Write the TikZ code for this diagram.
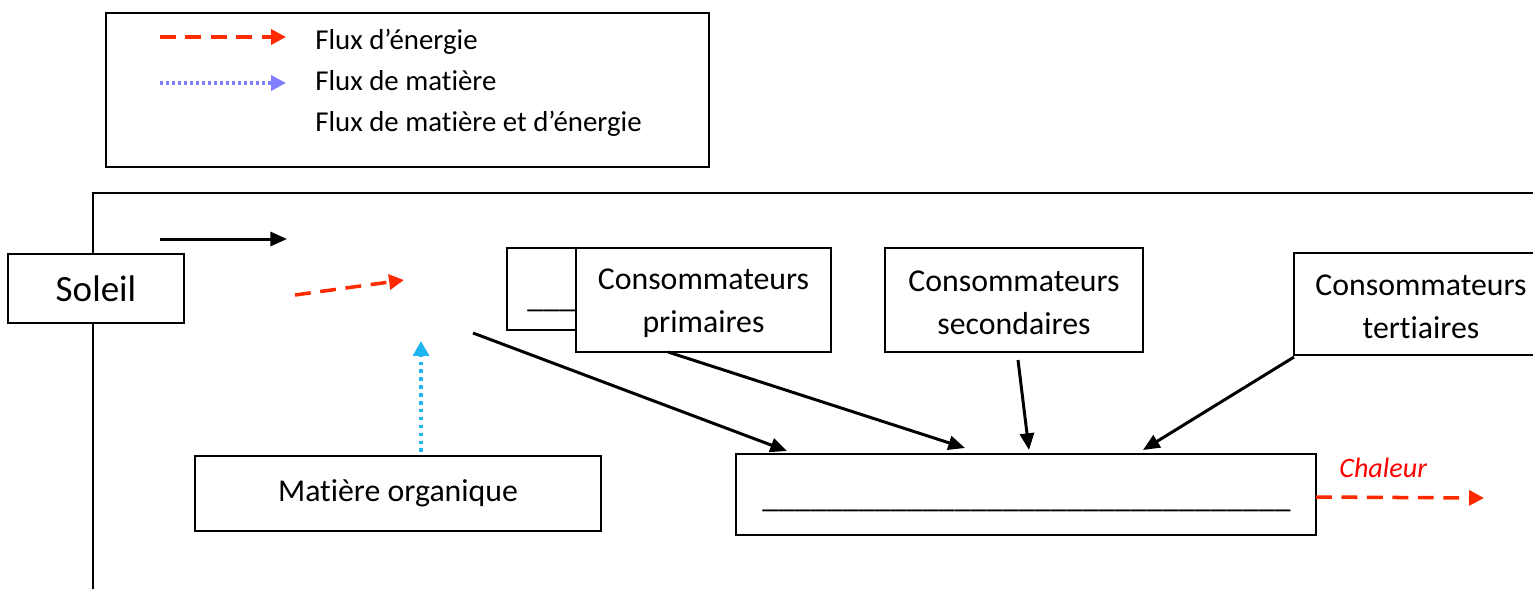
\documentclass[tikz,border=0pt]{standalone}
\usepackage{fontspec}
\setmainfont{Carlito}[Ligatures=NoCommon]
\usetikzlibrary{arrows.meta}
\definecolor{ered}{HTML}{FF2A00}
\definecolor{mblue}{HTML}{7F7FFF}
\definecolor{cyanb}{HTML}{1FB5EE}
\definecolor{chal}{HTML}{FF0000}
\begin{document}
\begin{tikzpicture}[x=0.02cm,y=-0.02cm,
  box/.style={draw, line width=1.3pt, fill=white, inner sep=0pt, align=center,
    font=\fontsize{18.1}{24.4}\selectfont},
  boxtext/.style={inner sep=0pt, align=center, font=\fontsize{18.1}{24.4}\selectfont, yshift=-0.06cm},
  legtext/.style={anchor=base west, inner sep=0pt, font=\fontsize{16.4}{20}\selectfont},
  blk/.style={line width=1.7pt, -{Triangle[length=9.5pt,width=8pt]}},
  nrj/.style={ered, line width=2pt, dash pattern=on 9pt off 5.5pt, -{Triangle[length=8.5pt,width=8.5pt]}},
  mat/.style={mblue, line width=2pt, dash pattern=on 1.8pt off 1.6pt, -{Triangle[length=8.5pt,width=8.5pt]}},
  matc/.style={cyanb, line width=2pt, dash pattern=on 2pt off 2.5pt, -{Triangle[length=8.5pt,width=9pt]}}
]
\useasboundingbox (0,0) rectangle (1533,589);
% legend
\node[box, minimum width=603*0.02cm, minimum height=154*0.02cm, anchor=north west] (leg) at (105,12) {};
\coordinate (l1s) at (160,37); \coordinate (l1e) at (286,37);
\coordinate (l2s) at (160,83); \coordinate (l2e) at (286,83);
\draw[nrj] (l1s) -- (l1e);
\draw[mat] (l2s) -- (l2e);
\node[legtext] (t1) at (315,49) {Flux d’énergie};
\node[legtext] (t2) at (315,90) {Flux de matière};
\node[legtext] (t3) at (315,131) {Flux de matière et d’énergie};
% frame
\coordinate (f1) at (93,589); \coordinate (f2) at (93,193); \coordinate (f3) at (1545,193);
\draw[line width=1.3pt] (f1) -- (f2) -- (f3);
% Soleil
\node[box, minimum width=176*0.02cm, minimum height=69*0.02cm, font=\fontsize{21.1}{26}\selectfont] (sol) at (96,288.5) {Soleil};
% arrows top left
\coordinate (a1s) at (160,239); \coordinate (a1e) at (287,239);
\draw[blk] (a1s) -- (a1e);
\coordinate (a2s) at (295,295); \coordinate (a2e) at (404,280);
\draw[nrj] (a2s) -- (a2e);
% small hidden box
\node[box, minimum width=70*0.02cm, minimum height=82*0.02cm] (hid) at (542,289) {};
\node[anchor=base west, inner sep=0pt, font=\fontsize{18.3}{24.4}\selectfont] (hidt) at (527,307) {\_\_\_};
% consumers
\node[box, minimum width=255*0.02cm, minimum height=104*0.02cm] (cp) at (703.5,300) {};
\node[boxtext] (cpt) at (cp.center) {Consommateurs\\primaires};
\node[box, minimum width=258*0.02cm, minimum height=104*0.02cm] (cs) at (1014,300) {};
\node[boxtext] (cst) at (cs.center) {Consommateurs\\secondaires};
\node[box, minimum width=254*0.02cm, minimum height=102*0.02cm] (ct) at (1421,304) {};
\node[boxtext] (ctt) at (ct.center) {Consommateurs\\tertiaires};
% matiere organique
\node[box, minimum width=406*0.02cm, minimum height=75*0.02cm] (mo) at (398,493.5) {Matière organique};
\coordinate (mos) at (421,452); \coordinate (moe) at (421,341);
\draw[matc] (mos) -- (moe);
% decomposers
\node[box, minimum width=580*0.02cm, minimum height=81*0.02cm] (dec) at (1026,494.5) {};
\node[anchor=base west, inner sep=0pt, font=\fontsize{18.3}{24.4}\selectfont] (dect) at (762,507.5) {\_\_\_\_\_\_\_\_\_\_\_\_\_\_\_\_\_\_\_\_\_\_\_\_\_\_\_\_\_\_\_\_\_};
% arrows to decomposers
\coordinate (d0s) at (473,333); \coordinate (d0e) at (787,451);
\draw[blk] (d0s) -- (d0e);
\coordinate (d1s) at (668,352); \coordinate (d1e) at (965,448);
\draw[blk] (d1s) -- (d1e);
\coordinate (d2s) at (1018,360); \coordinate (d2e) at (1029,450);
\draw[blk] (d2s) -- (d2e);
\coordinate (d3s) at (1294,357); \coordinate (d3e) at (1143,450);
\draw[blk] (d3s) -- (d3e);
% chaleur
\node[anchor=base west, inner sep=0pt, text=chal, font=\fontsize{16}{20}\selectfont\itshape] (chl) at (1339,477) {Chaleur};
\coordinate (c1s) at (1316,497); \coordinate (c1e) at (1484,498);
\draw[nrj] (c1s) -- (c1e);
\end{tikzpicture}
\end{document}
